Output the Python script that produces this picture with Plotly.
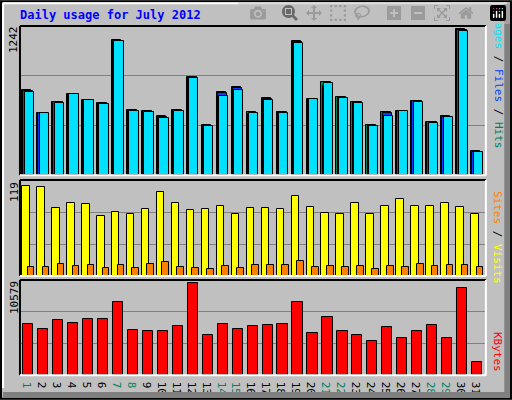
import plotly.graph_objects as go

days = list(range(1, 32))
weekend_days = [1, 7, 8, 14, 15, 21, 22, 28, 29]
hits = [727, 532, 625, 693, 642, 617, 1149, 558, 549, 499, 558, 837, 423, 710, 752, 541,
        659, 541, 1141, 651, 794, 668, 625, 423, 541, 549, 634, 456, 499, 1242, 203]
files = [718, 528, 618, 690, 638, 610, 1140, 552, 544, 494, 552, 830, 420, 700, 740, 520,
         650, 536, 1130, 645, 760, 660, 618, 418, 525, 545, 628, 450, 496, 1230, 200]
pages = [710, 525, 612, 690, 636, 605, 1140, 548, 540, 490, 548, 825, 420, 675, 725, 530,
         636, 532, 1120, 645, 780, 655, 612, 415, 500, 545, 622, 445, 496, 1225, 200]
visits = [119, 118, 91, 97, 96, 80, 85, 82, 89, 111, 97, 88, 89, 93, 82, 91,
          91, 89, 106, 92, 84, 83, 97, 82, 93, 102, 93, 93, 97, 92, 82]
sites = [12, 12, 16, 13, 15, 11, 15, 11, 16, 18, 12, 11, 9, 13, 11, 15,
         15, 15, 20, 12, 13, 12, 13, 9, 13, 12, 16, 13, 15, 15, 12]
kbytes = [5829, 5250, 6292, 5944, 6408, 6408, 8376, 5134, 5018, 5018, 5597, 10579, 4555, 5829, 5250, 5597,
          5713, 5829, 8376, 4786, 6639, 5018, 4555, 3860, 5481, 4207, 5018, 5713, 4207, 9997, 1544]

BG = "#C0C0C0"
GREEN = "#00805C"
MONO = "DejaVu Sans Mono"

fig = go.Figure()
line = dict(color="black", width=1)
def bar(y, color, off, w, ya):
    fig.add_trace(go.Bar(x=days, y=y, marker=dict(color=color, line=line),
                         offset=off, width=w, yaxis=ya, showlegend=False))

bar(hits, GREEN, -0.42, 0.62, "y")
bar(files, "#0040FF", -0.34, 0.62, "y")
bar(pages, "#00E0FF", -0.26, 0.62, "y")
bar(visits, "#FFFF00", -0.42, 0.5, "y2")
bar(sites, "#FF8000", -0.05, 0.45, "y2")
bar(kbytes, "#FF0000", -0.36, 0.68, "y3")

top1 = max(hits) * 150 / 147
top2 = max(visits) * 297 / 277
top3 = max(kbytes) * 282 / 274

def yax(dom, top):
    return dict(domain=dom, range=[0, top], tickvals=[top / 3, 2 * top / 3],
                showticklabels=False, gridcolor="#808080", gridwidth=1,
                zeroline=False, fixedrange=True, anchor="x")

ticktext = [f"<span style='color:{GREEN}'>{d}</span>" if d in weekend_days else str(d) for d in days]
fig.update_layout(
    width=512, height=400, margin=dict(l=0, r=0, t=0, b=0),
    paper_bgcolor=BG, plot_bgcolor=BG, barmode="overlay", bargap=0,
    font=dict(family=MONO, size=11, color="black"),
    xaxis=dict(domain=[0.041, 0.947], range=[0.5, 31.5], tickvals=days, ticktext=ticktext,
               showgrid=False, zeroline=False, ticks="", tickfont=dict(size=11), anchor="y3"),
    yaxis=yax([0.562, 0.935], top1),
    yaxis2=yax([0.31, 0.55], top2),
    yaxis3=yax([0.062, 0.30], top3),
)

shapes = [
    dict(type="rect", xref="paper", yref="paper", x0=0.002, x1=0.998, y0=0.003, y1=0.997,
         line=dict(color="black", width=2)),
    dict(type="line", xref="paper", yref="paper", x0=0.006, x1=0.99, y0=0.992, y1=0.992,
         line=dict(color="white", width=2)),
    dict(type="line", xref="paper", yref="paper", x0=0.006, x1=0.006, y0=0.03, y1=0.992,
         line=dict(color="white", width=2)),
    dict(type="rect", xref="paper", yref="paper", x0=0.985, x1=0.996, y0=0.005, y1=0.99,
         fillcolor="#808080", line=dict(width=0)),
    dict(type="rect", xref="paper", yref="paper", x0=0.006, x1=0.996, y0=0.005, y1=0.02,
         fillcolor="#808080", line=dict(width=0)),
]
for dom in ([0.562, 0.935], [0.31, 0.55], [0.062, 0.30]):
    x0, x1 = 0.039, 0.949
    shapes += [
        dict(type="line", xref="paper", yref="paper", x0=x0, x1=x1, y0=dom[1], y1=dom[1], line=dict(color="black", width=2)),
        dict(type="line", xref="paper", yref="paper", x0=x0, x1=x0, y0=dom[0], y1=dom[1], line=dict(color="black", width=2)),
        dict(type="line", xref="paper", yref="paper", x0=x1, x1=x1, y0=dom[0], y1=dom[1], line=dict(color="white", width=2)),
        dict(type="line", xref="paper", yref="paper", x0=x0, x1=x1, y0=dom[0], y1=dom[0], line=dict(color="white", width=2)),
    ]
fig.update_layout(shapes=shapes)

ann = [
    dict(text="<b>Daily usage for July 2012</b>", x=18, y=15, font=dict(color="#0000FF", size=12)),
    dict(text="1242", x=14, y=40, textangle=-90),
    dict(text="119", x=14, y=192, textangle=-90),
    dict(text="10579", x=14, y=298, textangle=-90),
    dict(text="<span style='color:#00E0FF'>Pages</span> / <span style='color:#0040FF'>Files</span> / <span style='color:#00805C'>Hits</span>",
         x=498, y=82, textangle=90),
    dict(text="<span style='color:#FF8000'>Sites</span> / <span style='color:#FFFF00'>Visits</span>",
         x=498, y=237, textangle=90),
    dict(text="<span style='color:#FF0000'>KBytes</span>", x=498, y=352, textangle=90),
]
for a in ann:
    xa = "left" if a["x"] == 18 else "center"
    fig.add_annotation(text=a["text"], x=a["x"] / 512, y=1 - a["y"] / 400, xref="paper", yref="paper",
                       showarrow=False, textangle=a.get("textangle", 0), xanchor=xa, yanchor="middle",
                       font=a.get("font", dict(size=11, color="black")))

fig.write_html("out.html", post_script="document.body.style.margin='0';document.body.style.padding='0';document.body.style.overflow='hidden';")
